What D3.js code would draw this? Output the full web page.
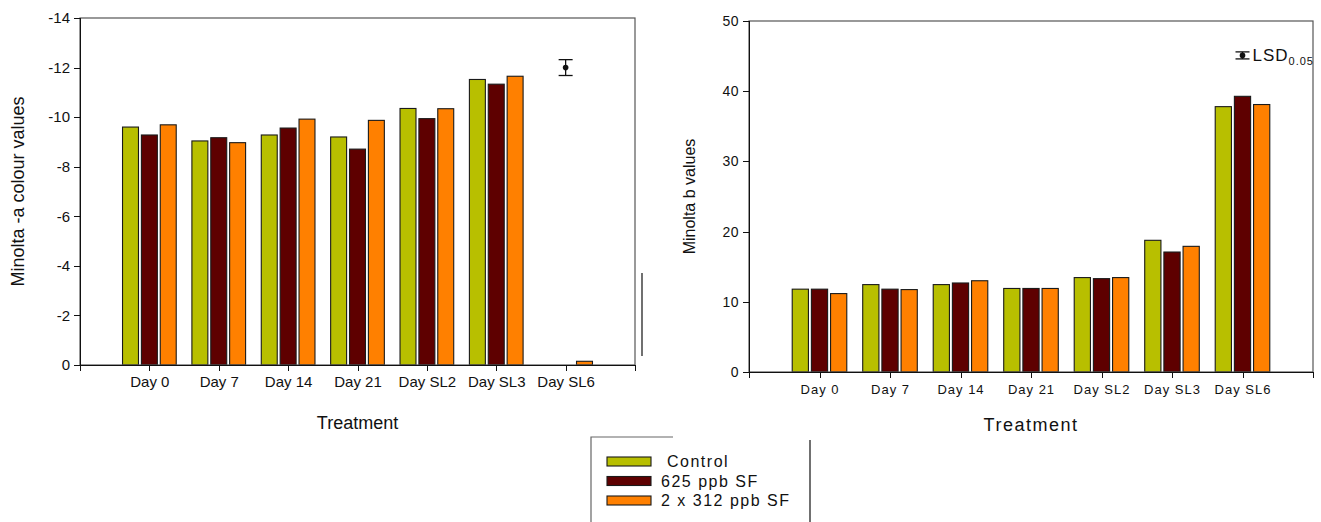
<!DOCTYPE html>
<html lang="en">
<head>
    <meta charset="UTF-8">
    <title>Minolta colour values</title>
    <script type="text/javascript" src="https://cdn.jsdelivr.net/npm/d3@7/dist/d3.min.js"></script>
    <style>
        body {
            margin: 0;
            background: #fff;
        }
        svg text {
            font-family: "Liberation Sans", Arial, sans-serif;
            fill: #111;
        }
        .axis path,
        .axis line {
            stroke: #111;
            shape-rendering: crispEdges;
        }
        .axis text {
            font-size: 15px;
        }
        .right .xaxis text {
            font-size: 13px;
            letter-spacing: 1px;
        }
        .right .yaxis text {
            font-size: 14px;
            letter-spacing: 0.5px;
        }
    </style>
</head>
<body>
<script type="text/javascript">
    var categories = ["Day 0", "Day 7", "Day 14", "Day 21", "Day SL2", "Day SL3", "Day SL6"];
    var seriesNames = ["Control", "625 ppb SF", "2 x 312 ppb SF"];
    var colors = ["#b8bf00", "#5e0000", "#ff8000"];

    // Minolta -a values
    var aControl = [-9.60, -9.04, -9.28, -9.20, -10.35, -11.52, 0];
    var a625 = [-9.28, -9.17, -9.56, -8.71, -9.94, -11.33, 0];
    var a2x312 = [-9.69, -8.97, -9.92, -9.87, -10.34, -11.65, -0.15];
    var aTicks = [0, -2, -4, -6, -8, -10, -12, -14];
    var aLsd = -12.0, aLsdHalf = 0.32;

    // Minolta b values
    var bControl = [11.8, 12.45, 12.45, 11.9, 13.45, 18.76, 37.8];
    var b625 = [11.8, 11.8, 12.68, 11.9, 13.3, 17.09, 39.27];
    var b2x312 = [11.17, 11.74, 13.0, 11.9, 13.45, 17.9, 38.1];
    var bTicks = [0, 10, 20, 30, 40, 50];
    var bLsd = 45.1, bLsdHalf = 0.5;

    var W = 1321, H = 522;

    var svg = d3.select("body")
        .append("svg")
        .attr("width", W)
        .attr("height", H);

    function drawPanel(opt) {
        var g = svg.append("g").attr("class", opt.cls);

        var xScale = d3.scaleLinear()
            .domain([0, categories.length + 1])
            .range([opt.left, opt.right]);

        var yScale = d3.scaleLinear()
            .domain(opt.domain)
            .range([opt.bottom, opt.top]);

        var step = 0.272, bw = 0.23;
        var rows = [];
        opt.series.forEach(function (vals, j) {
            vals.forEach(function (v, i) {
                rows.push({i: i, j: j, v: v});
            });
        });

        g.selectAll("rect.bar")
            .data(rows)
            .enter()
            .append("rect")
            .attr("class", "bar")
            .attr("x", function (d) {
                return xScale(d.i + 1 + (d.j - 1) * step - bw / 2);
            })
            .attr("width", xScale(bw) - xScale(0))
            .attr("y", function (d) {
                return Math.min(yScale(d.v), yScale(0));
            })
            .attr("height", function (d) {
                return Math.abs(yScale(0) - yScale(d.v));
            })
            .attr("fill", function (d) {
                return colors[d.j];
            })
            .attr("stroke", "#1a1a1a")
            .attr("stroke-width", 1.1);

        // frame
        g.append("rect")
            .attr("x", opt.left)
            .attr("y", opt.top)
            .attr("width", opt.right - opt.left)
            .attr("height", opt.bottom - opt.top)
            .attr("fill", "none")
            .attr("stroke", "#555")
            .attr("stroke-width", 1.2);

        var xAxis = d3.axisBottom(xScale)
            .tickValues(d3.range(0, categories.length + 1))
            .tickSize(6)
            .tickFormat(function (d) {
                return d === 0 ? "" : categories[d - 1];
            });

        // plain hyphen for negatives, as in the original
        var yAxis = d3.axisLeft(yScale)
            .tickValues(opt.ticks)
            .tickSize(6)
            .tickPadding(4)
            .tickFormat(function (d) {
                return String(d);
            });

        g.append("g")
            .attr("class", "axis xaxis")
            .attr("transform", "translate(0," + opt.bottom + ")")
            .call(xAxis)
            .call(function (s) {
                s.select(".domain").attr("stroke-width", 1.5);
                s.selectAll("text").attr("dy", opt.xLabelDy);
            });

        g.append("g")
            .attr("class", "axis yaxis")
            .attr("transform", "translate(" + opt.left + ",0)")
            .call(yAxis)
            .call(function (s) {
                s.select(".domain").attr("stroke-width", 1.5);
            });

        // LSD marker
        var lx = xScale(categories.length);
        var lsd = g.append("g").attr("stroke", "#111").attr("stroke-width", 1.3);
        lsd.append("line")
            .attr("x1", lx).attr("x2", lx)
            .attr("y1", yScale(opt.lsd - opt.lsdHalf))
            .attr("y2", yScale(opt.lsd + opt.lsdHalf));
        [opt.lsd - opt.lsdHalf, opt.lsd + opt.lsdHalf].forEach(function (v) {
            lsd.append("line")
                .attr("x1", lx - 7).attr("x2", lx + 7)
                .attr("y1", yScale(v)).attr("y2", yScale(v));
        });
        g.append("circle")
            .attr("cx", lx)
            .attr("cy", yScale(opt.lsd))
            .attr("r", 2.8)
            .attr("fill", "#111");

        // titles
        g.append("text")
            .attr("x", (opt.left + opt.right) / 2)
            .attr("y", opt.xTitleY)
            .attr("text-anchor", "middle")
            .style("font-size", opt.titleSize)
            .style("letter-spacing", opt.titleSpacing)
            .text("Treatment");

        g.append("text")
            .attr("transform", "translate(" + opt.yTitleX + "," + ((opt.top + opt.bottom) / 2) + ") rotate(-90)")
            .attr("text-anchor", "middle")
            .style("font-size", opt.yTitleSize)
            .text(opt.yTitle);

        return {x: xScale, y: yScale, g: g};
    }

    drawPanel({
        cls: "left",
        left: 80, right: 635, top: 18, bottom: 365,
        domain: [0, -14], ticks: aTicks,
        series: [aControl, a625, a2x312],
        lsd: aLsd, lsdHalf: aLsdHalf,
        xLabelDy: "0.85em",
        xTitleY: 429, titleSize: "18px", titleSpacing: "0px",
        yTitleX: 24, yTitleSize: "18px",
        yTitle: "Minolta -a colour values"
    });

    var right = drawPanel({
        cls: "right",
        left: 749, right: 1313, top: 21, bottom: 372,
        domain: [0, 50], ticks: bTicks,
        series: [bControl, b625, b2x312],
        lsd: bLsd, lsdHalf: bLsdHalf,
        xLabelDy: "1.0em",
        xTitleY: 431, titleSize: "18px", titleSpacing: "1.5px",
        yTitleX: 695, yTitleSize: "16px",
        yTitle: "Minolta b values"
    });

    // LSD label
    var lsdText = right.g.append("text")
        .attr("x", right.x(categories.length) + 10)
        .attr("y", right.y(bLsd) + 6)
        .style("font-size", "17px")
        .style("letter-spacing", "1px");
    lsdText.append("tspan").text("LSD");
    lsdText.append("tspan")
        .attr("dy", 4)
        .style("font-size", "11px")
        .text("0.05");

    // stray line right of left panel
    svg.append("line")
        .attr("x1", 642).attr("x2", 642)
        .attr("y1", 273).attr("y2", 356)
        .attr("stroke", "#111").attr("stroke-width", 1.2);

    // legend
    var leg = svg.append("g");
    leg.append("path")
        .attr("d", "M673,437H591V522")
        .attr("fill", "none")
        .attr("stroke", "#666")
        .attr("stroke-width", 1.2);
    leg.append("line")
        .attr("x1", 810).attr("x2", 810)
        .attr("y1", 440).attr("y2", 522)
        .attr("stroke", "#111").attr("stroke-width", 1.2);

    var items = leg.selectAll("g.item")
        .data(seriesNames)
        .enter()
        .append("g")
        .attr("class", "item")
        .attr("transform", function (d, i) {
            return "translate(607," + (457 + i * 19.5) + ")";
        });
    items.append("rect")
        .attr("width", 44)
        .attr("height", 9)
        .attr("fill", function (d, i) {
            return colors[i];
        })
        .attr("stroke", "#1a1a1a")
        .attr("stroke-width", 1.1);
    items.append("text")
        .attr("x", function (d, i) {
            return i === 0 ? 60 : 54;
        })
        .attr("y", 10)
        .style("font-size", "16px")
        .style("letter-spacing", "1.5px")
        .text(function (d) {
            return d;
        });
</script>
</body>
</html>
